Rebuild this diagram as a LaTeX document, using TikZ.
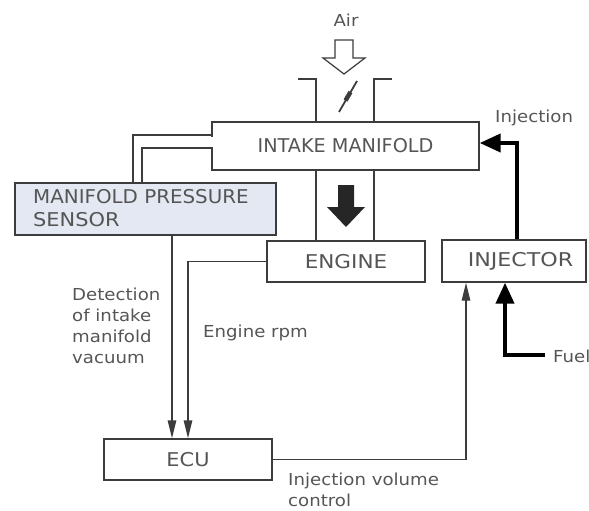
\documentclass[tikz,border=0pt]{standalone}
\usepackage{fontspec}
\newfontfamily\dfont[FakeStretch=1.1]{DejaVu Sans}
\usetikzlibrary{arrows.meta}
\definecolor{txt}{HTML}{555555}
\definecolor{ln}{HTML}{3C3C3C}
\definecolor{sens}{HTML}{E3E8F3}
\begin{document}
\begin{tikzpicture}[x=1pt,y=-1pt,
  bigfont/.style={font=\dfont\fontsize{19}{23}\selectfont},
  box/.style={draw=ln, line width=1.4pt, fill=white, inner sep=0pt, text=txt, bigfont},
  lbl/.style={text=txt, font=\dfont\fontsize{16.5}{21}\selectfont, inner sep=0pt, align=left},
  wire/.style={draw=ln, line width=1.4pt},
  thinarrow/.style={wire, -{Triangle[length=18pt,width=8.5pt]}},
  thickarrow/.style={draw=black, line width=4pt, -{Triangle[length=21pt,width=18pt]}}]
\useasboundingbox (0,0) rectangle (589,511);

% coordinates for vertical runs
\coordinate (xA) at (172,0);
\coordinate (xB) at (188,0);
\coordinate (xL) at (316,0);
\coordinate (xR) at (374,0);
\coordinate (xV) at (466,0);
\coordinate (xF) at (505,0);
\coordinate (xI) at (517,0);
\coordinate (yI) at (0,143);
\coordinate (fuelend) at (545,355);

% nodes
\node[box, minimum width=267pt, minimum height=48pt] (man) at (345.5,146) {\scalebox{0.92}[1]{INTAKE MANIFOLD}};
\node[box, minimum width=158pt, minimum height=41pt] (eng) at (346,261.5) {\scalebox{1.03}[1]{ENGINE}};
\node[box, minimum width=144pt, minimum height=42pt] (inj) at (514,261) {\hspace*{13pt}\scalebox{1.06}[1]{INJECTOR}};
\node[box, fill=sens, minimum width=261pt, minimum height=52pt] (sen) at (145.5,209) {};
\node[lbl, bigfont, anchor=west, align=left] (sentext) at (33,208) {\scalebox{0.95}[1]{MANIFOLD PRESSURE}\\SENSOR};
\node[box, minimum width=168pt, minimum height=41pt] (ecu) at (188,459.5) {ECU};

% air arrow and throttle
\node[lbl] (air) at (346,20) {Air};
\draw[ln, line width=1.2pt, fill=white] (335,40) -- (353,40) -- (353,58) -- (365,58) -- (344,74) -- (323,58) -- (335,58) -- cycle;
\draw[wire] (298,79) -- (316,79) -- (xL |- man.north);
\draw[wire] (392,79) -- (374,79) -- (xR |- man.north);
\draw[ln, line width=1.8pt] (339,112) -- (357,81);
\draw[ln, line width=4.5pt] (345.5,100.5) -- (350.5,92);

% manifold to engine
\draw[wire] (xL |- man.south) -- (xL |- eng.north);
\draw[wire] (xR |- man.south) -- (xR |- eng.north);
\fill[black!85] (338,185) -- (354,185) -- (354,207) -- (365,207) -- (346,227) -- (327,207) -- (338,207) -- cycle;

% sensor pipes
\draw[wire] (133,183) -- (133,135) -- (212,135);
\draw[wire] (142,183) -- (142,148) -- (212,148);
\draw[white, line width=3pt] (212,136.5) -- (212,146.5);

% signals
\draw[thinarrow] (xA |- sen.south) -- (xA |- ecu.north);
\draw[thinarrow] (eng.west) -- (xB |- eng.west) -- (xB |- ecu.north);
\draw[thinarrow] (ecu.east) -- (xV |- ecu.east) -- (xV |- inj.south);
\draw[thickarrow] (fuelend) -- (xF |- fuelend) -- (xF |- inj.south);
\draw[thickarrow] (xI |- inj.north) -- (xI |- yI) -- (man.east |- yI);

% labels
\node[lbl, anchor=north west] (det) at (72,288) {Detection\\of intake\\manifold\\vacuum};
\node[lbl, anchor=west] (rpm) at (203,333) {Engine rpm};
\node[lbl, anchor=west] (injl) at (495,118) {Injection};
\node[lbl, anchor=north west] (ivc) at (288,473) {Injection volume\\control};
\node[lbl, anchor=west] (fuel) at (553,356) {Fuel};
\end{tikzpicture}
\end{document}
